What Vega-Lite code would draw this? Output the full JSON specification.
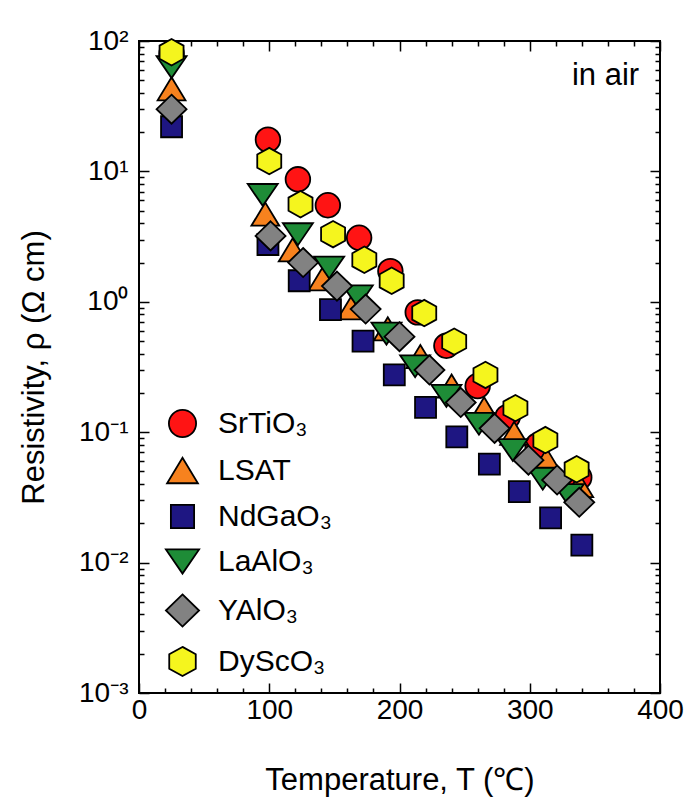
{
  "$schema": "https://vega.github.io/schema/vega-lite/v6.json",
  "width": 521,
  "height": 652,
  "autosize": {"type": "none"},
  "padding": {"left": 139, "top": 41, "right": 33, "bottom": 114},
  "background": "white",
  "config": {
    "font": "Liberation Sans",
    "view": {"stroke": "black", "strokeWidth": 2},
    "axis": {
      "domain": false,
      "grid": false,
      "tickColor": "black",
      "tickWidth": 1.5,
      "labelColor": "black",
      "titleColor": "black",
      "labelFont": "Liberation Sans",
      "titleFont": "Liberation Sans",
      "labelFontSize": 28,
      "titleFontSize": 31,
      "titleFontWeight": "normal",
      "labelOverlap": false,
      "labelFlush": false
    }
  },
  "resolve": {"axis": {"x": "independent", "y": "independent"}},
  "layer": [
    {
      "data": {
        "values": [
          {"substrate": "SrTiO3", "T": 25, "rho": 80},
          {"substrate": "SrTiO3", "T": 99, "rho": 17.5},
          {"substrate": "SrTiO3", "T": 122, "rho": 8.7},
          {"substrate": "SrTiO3", "T": 145, "rho": 5.5},
          {"substrate": "SrTiO3", "T": 169, "rho": 3.1},
          {"substrate": "SrTiO3", "T": 193, "rho": 1.72},
          {"substrate": "SrTiO3", "T": 214, "rho": 0.83},
          {"substrate": "SrTiO3", "T": 236, "rho": 0.46},
          {"substrate": "SrTiO3", "T": 260, "rho": 0.226},
          {"substrate": "SrTiO3", "T": 283, "rho": 0.131},
          {"substrate": "SrTiO3", "T": 306, "rho": 0.079},
          {"substrate": "SrTiO3", "T": 338, "rho": 0.045},
          {"substrate": "LSAT", "T": 25, "rho": 43},
          {"substrate": "LSAT", "T": 97, "rho": 4.7},
          {"substrate": "LSAT", "T": 118, "rho": 2.5},
          {"substrate": "LSAT", "T": 141, "rho": 1.5},
          {"substrate": "LSAT", "T": 163, "rho": 0.9},
          {"substrate": "LSAT", "T": 191, "rho": 0.62},
          {"substrate": "LSAT", "T": 216, "rho": 0.38},
          {"substrate": "LSAT", "T": 240, "rho": 0.226},
          {"substrate": "LSAT", "T": 265, "rho": 0.151},
          {"substrate": "LSAT", "T": 288, "rho": 0.098},
          {"substrate": "LSAT", "T": 313, "rho": 0.061},
          {"substrate": "LSAT", "T": 338, "rho": 0.039},
          {"substrate": "NdGaO3", "T": 25, "rho": 22},
          {"substrate": "NdGaO3", "T": 99, "rho": 2.75},
          {"substrate": "NdGaO3", "T": 123, "rho": 1.45},
          {"substrate": "NdGaO3", "T": 147, "rho": 0.87},
          {"substrate": "NdGaO3", "T": 172, "rho": 0.5},
          {"substrate": "NdGaO3", "T": 196, "rho": 0.275},
          {"substrate": "NdGaO3", "T": 220, "rho": 0.155},
          {"substrate": "NdGaO3", "T": 244, "rho": 0.092},
          {"substrate": "NdGaO3", "T": 269, "rho": 0.057},
          {"substrate": "NdGaO3", "T": 292, "rho": 0.035},
          {"substrate": "NdGaO3", "T": 316, "rho": 0.022},
          {"substrate": "NdGaO3", "T": 340, "rho": 0.0136},
          {"substrate": "LaAlO3", "T": 25, "rho": 63},
          {"substrate": "LaAlO3", "T": 95, "rho": 6.6},
          {"substrate": "LaAlO3", "T": 122, "rho": 3.3},
          {"substrate": "LaAlO3", "T": 146, "rho": 1.83},
          {"substrate": "LaAlO3", "T": 168, "rho": 1.1},
          {"substrate": "LaAlO3", "T": 190, "rho": 0.57},
          {"substrate": "LaAlO3", "T": 212, "rho": 0.32},
          {"substrate": "LaAlO3", "T": 236, "rho": 0.19},
          {"substrate": "LaAlO3", "T": 261, "rho": 0.116},
          {"substrate": "LaAlO3", "T": 287, "rho": 0.073},
          {"substrate": "LaAlO3", "T": 310, "rho": 0.044},
          {"substrate": "LaAlO3", "T": 330, "rho": 0.033},
          {"substrate": "YAlO3", "T": 25, "rho": 30},
          {"substrate": "YAlO3", "T": 101, "rho": 3.2},
          {"substrate": "YAlO3", "T": 126, "rho": 2.0},
          {"substrate": "YAlO3", "T": 152, "rho": 1.32},
          {"substrate": "YAlO3", "T": 174, "rho": 0.88},
          {"substrate": "YAlO3", "T": 200, "rho": 0.54},
          {"substrate": "YAlO3", "T": 223, "rho": 0.3},
          {"substrate": "YAlO3", "T": 247, "rho": 0.169},
          {"substrate": "YAlO3", "T": 273, "rho": 0.107},
          {"substrate": "YAlO3", "T": 299, "rho": 0.061},
          {"substrate": "YAlO3", "T": 321, "rho": 0.043},
          {"substrate": "YAlO3", "T": 338, "rho": 0.029},
          {"substrate": "DyScO3", "T": 25, "rho": 82},
          {"substrate": "DyScO3", "T": 100, "rho": 12},
          {"substrate": "DyScO3", "T": 124, "rho": 5.6},
          {"substrate": "DyScO3", "T": 149, "rho": 3.3},
          {"substrate": "DyScO3", "T": 173, "rho": 2.1},
          {"substrate": "DyScO3", "T": 194, "rho": 1.45},
          {"substrate": "DyScO3", "T": 219, "rho": 0.82},
          {"substrate": "DyScO3", "T": 242, "rho": 0.495},
          {"substrate": "DyScO3", "T": 266, "rho": 0.275},
          {"substrate": "DyScO3", "T": 289, "rho": 0.153},
          {"substrate": "DyScO3", "T": 312, "rho": 0.087},
          {"substrate": "DyScO3", "T": 336, "rho": 0.052}
        ]
      },
      "mark": {"type": "point", "filled": true, "opacity": 1, "stroke": "black", "strokeWidth": 1.8, "size": 900},
      "encoding": {
        "x": {
          "field": "T",
          "type": "quantitative",
          "scale": {"domain": [0, 400], "nice": false, "zero": false},
          "axis": {
            "orient": "bottom",
            "title": "Temperature, T (℃)",
            "values": [0, 20, 40, 60, 80, 100, 120, 140, 160, 180, 200, 220, 240, 260, 280, 300, 320, 340, 360, 380, 400],
            "labelExpr": "datum.value % 100 === 0 ? datum.label : ''",
            "tickSize": {"condition": {"test": "datum.value % 100 === 0", "value": -10}, "value": -5},
            "labelPadding": 13,
            "titlePadding": 36
          }
        },
        "y": {
          "field": "rho",
          "type": "quantitative",
          "scale": {"type": "log", "domain": [0.001, 100], "nice": false},
          "axis": {
            "orient": "left",
            "title": "Resistivity, ρ (Ω cm)",
            "values": [0.001, 0.002, 0.003, 0.004, 0.005, 0.006, 0.007, 0.008, 0.009, 0.01, 0.02, 0.03, 0.04, 0.05, 0.06, 0.07, 0.08, 0.09, 0.1, 0.2, 0.3, 0.4, 0.5, 0.6, 0.7, 0.8, 0.9, 1, 2, 3, 4, 5, 6, 7, 8, 9, 10, 20, 30, 40, 50, 60, 70, 80, 90, 100],
            "labelExpr": "datum.value == 100 ? '10²' : datum.value == 10 ? '10¹' : datum.value == 1 ? '10⁰' : datum.value == 0.1 ? '10⁻¹' : datum.value == 0.01 ? '10⁻²' : datum.value == 0.001 ? '10⁻³' : ''",
            "tickSize": {"condition": {"test": "indexof([0.001, 0.01, 0.1, 1, 10, 100], datum.value) >= 0", "value": -10}, "value": -5},
            "labelPadding": 21,
            "titlePadding": 28
          }
        },
        "color": {
          "field": "substrate",
          "type": "nominal",
          "scale": {
            "domain": ["SrTiO3", "LSAT", "NdGaO3", "LaAlO3", "YAlO3", "DyScO3"],
            "range": ["#ff1414", "#f7821e", "#1e1682", "#1e8c37", "#828282", "#f5f51e"]
          },
          "legend": {
            "orient": "none",
            "legendX": 26,
            "legendY": 365,
            "title": null,
            "padding": 0,
            "symbolSize": 1100,
            "symbolStrokeColor": "black",
            "symbolStrokeWidth": 1.8,
            "symbolOpacity": 1,
            "labelFont": "Liberation Sans",
            "labelFontSize": 30,
            "labelColor": "black",
            "labelOffset": 18,
            "rowPadding": 12,
            "labelExpr": "replace(datum.label, 'O3', 'O₃')",
            "encode": {"symbols": {"update": {"stroke": {"value": "black"}, "strokeWidth": {"value": 1.8}}}}
          }
        },
        "shape": {
          "field": "substrate",
          "type": "nominal",
          "scale": {
            "domain": ["SrTiO3", "LSAT", "NdGaO3", "LaAlO3", "YAlO3", "DyScO3"],
            "range": [
              "M0.82,0A0.82,0.82 0 1,1 -0.82,0A0.82,0.82 0 1,1 0.82,0Z",
              "M0,-0.77L0.93,0.77L-0.93,0.77Z",
              "M-0.7,-0.7L0.7,-0.7L0.7,0.7L-0.7,0.7Z",
              "M-1,-0.73L1,-0.73L0,0.73Z",
              "M0,-0.97L1,0L0,0.97L-1,0Z",
              "M0,-0.88L0.8,-0.44L0.8,0.44L0,0.88L-0.8,0.44L-0.8,-0.44Z"
            ]
          },
          "legend": {
            "orient": "none",
            "legendX": 26,
            "legendY": 365,
            "title": null,
            "padding": 0,
            "symbolSize": 1100,
            "symbolStrokeColor": "black",
            "symbolStrokeWidth": 1.8,
            "symbolOpacity": 1,
            "labelFont": "Liberation Sans",
            "labelFontSize": 30,
            "labelColor": "black",
            "labelOffset": 18,
            "rowPadding": 12,
            "labelExpr": "replace(datum.label, 'O3', 'O₃')",
            "encode": {"symbols": {"update": {"stroke": {"value": "black"}, "strokeWidth": {"value": 1.8}}}}
          }
        }
      }
    },
    {
      "data": {"values": [{"note": "in air", "T": 384, "rho": 46}]},
      "mark": {"type": "text", "align": "right", "baseline": "alphabetic", "font": "Liberation Sans", "fontSize": 31, "color": "black"},
      "encoding": {
        "x": {
          "field": "T",
          "type": "quantitative",
          "scale": {"domain": [0, 400], "nice": false, "zero": false},
          "axis": {
            "orient": "top",
            "title": null,
            "labels": false,
            "values": [0, 20, 40, 60, 80, 100, 120, 140, 160, 180, 200, 220, 240, 260, 280, 300, 320, 340, 360, 380, 400],
            "tickSize": {"condition": {"test": "datum.value % 100 === 0", "value": -10}, "value": -5}
          }
        },
        "y": {
          "field": "rho",
          "type": "quantitative",
          "scale": {"type": "log", "domain": [0.001, 100], "nice": false},
          "axis": {
            "orient": "right",
            "title": null,
            "labels": false,
            "values": [0.001, 0.002, 0.003, 0.004, 0.005, 0.006, 0.007, 0.008, 0.009, 0.01, 0.02, 0.03, 0.04, 0.05, 0.06, 0.07, 0.08, 0.09, 0.1, 0.2, 0.3, 0.4, 0.5, 0.6, 0.7, 0.8, 0.9, 1, 2, 3, 4, 5, 6, 7, 8, 9, 10, 20, 30, 40, 50, 60, 70, 80, 90, 100],
            "tickSize": {"condition": {"test": "indexof([0.001, 0.01, 0.1, 1, 10, 100], datum.value) >= 0", "value": -10}, "value": -5}
          }
        },
        "text": {"field": "note", "type": "nominal"}
      }
    }
  ]
}
